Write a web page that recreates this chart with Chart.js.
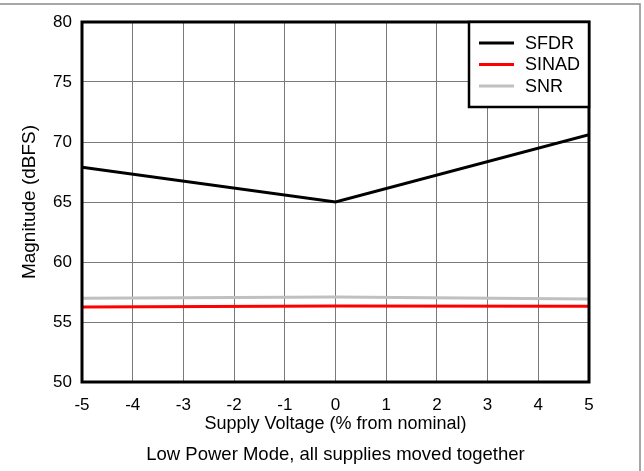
<!DOCTYPE html>
<html>
<head>
<meta charset="utf-8">
<script src="https://cdn.jsdelivr.net/npm/chart.js@4.4.1/dist/chart.umd.min.js"></script>
<style>
  html, body { margin: 0; padding: 0; background: #fff; }
  #wrap { position: relative; width: 644px; height: 471px; }
</style>
</head>
<body>
<div id="wrap"><canvas id="c" width="644" height="471"></canvas></div>
<script>
// ---- data ----
const supplyVoltage = [-5, 0, 5];            // % from nominal
const sfdr  = [67.9, 65.0, 70.6];            // dBFS
const sinad = [56.25, 56.33, 56.32];         // dBFS
const snr   = [56.97, 57.08, 56.92];         // dBFS
const seriesLabels = ['SFDR', 'SINAD', 'SNR'];
const xTitle = 'Supply Voltage (% from nominal)';
const yTitle = 'Magnitude (dBFS)';
const caption = 'Low Power Mode, all supplies moved together';

const FONT = 'Arial, "Liberation Sans", Helvetica, sans-serif';
const toPts = (xs, ys) => xs.map((x, i) => ({x: x, y: ys[i]}));

const framePlugin = {
  id: 'frameAndLegend',
  afterDraw(chart) {
    const {ctx, chartArea: a} = chart;
    ctx.save();
    // outer page frame (top + right)
    ctx.strokeStyle = '#8a8a8a';
    ctx.lineWidth = 1.5;
    ctx.beginPath();
    ctx.moveTo(0, 4); ctx.lineTo(640, 4); ctx.lineTo(640, 471);
    ctx.stroke();
    // plot box
    ctx.strokeStyle = '#000';
    ctx.lineWidth = 3;
    ctx.strokeRect(a.left, a.top, a.right - a.left, a.bottom - a.top);
    // legend box
    const bw = 120, bh = 85;
    const bx = a.right - bw, by = a.top;
    ctx.fillStyle = '#fff';
    ctx.fillRect(bx, by, bw, bh);
    ctx.lineWidth = 2.5;
    ctx.strokeRect(bx, by, bw, bh);
    ctx.font = '18px ' + FONT;
    ctx.textBaseline = 'middle';
    ctx.textAlign = 'left';
    chart.data.datasets.forEach((ds, i) => {
      const y = by + 21 + i * 21.5;
      ctx.strokeStyle = ds.borderColor;
      ctx.lineWidth = 3;
      ctx.beginPath();
      ctx.moveTo(bx + 10, y); ctx.lineTo(bx + 45, y);
      ctx.stroke();
      ctx.fillStyle = '#000';
      ctx.fillText(ds.label, bx + 56, y + 1);
    });
    // caption
    ctx.font = '18.5px ' + FONT;
    ctx.textAlign = 'center';
    ctx.textBaseline = 'alphabetic';
    ctx.fillStyle = '#000';
    ctx.fillText(caption, (a.left + a.right) / 2, 460);
    ctx.restore();
  }
};

new Chart(document.getElementById('c'), {
  type: 'line',
  data: {
    datasets: [
      {label: seriesLabels[0], data: toPts(supplyVoltage, sfdr),  borderColor: '#000000', borderWidth: 3},
      {label: seriesLabels[1], data: toPts(supplyVoltage, sinad), borderColor: '#ff0000', borderWidth: 3},
      {label: seriesLabels[2], data: toPts(supplyVoltage, snr),   borderColor: '#c0c0c0', borderWidth: 3}
    ]
  },
  options: {
    responsive: false,
    animation: false,
    devicePixelRatio: 1,
    layout: {padding: {top: 22, right: 55, left: 0, bottom: 0}},
    elements: {point: {radius: 0}, line: {tension: 0}},
    plugins: {legend: {display: false}, tooltip: {enabled: false}, title: {display: false}},
    scales: {
      x: {
        type: 'linear', min: -5, max: 5,
        afterFit: s => { s.height = 89; },
        grid: {color: '#7a7a7a', lineWidth: 1, drawTicks: false},
        border: {display: false},
        ticks: {stepSize: 1, padding: 13, color: '#000', font: {family: FONT, size: 17}, maxRotation: 0},
        title: {display: true, text: xTitle, color: '#000', font: {family: FONT, size: 18}, padding: {top: 0, bottom: 36}}
      },
      y: {
        min: 50, max: 80,
        afterFit: s => { s.width = 82; },
        grid: {color: '#7a7a7a', lineWidth: 1, drawTicks: false},
        border: {display: false},
        ticks: {stepSize: 5, padding: 10, color: '#000', font: {family: FONT, size: 17}},
        title: {display: true, text: yTitle, color: '#000', font: {family: FONT, size: 19}, padding: {top: 18, bottom: 0}}
      }
    }
  },
  plugins: [framePlugin]
});
</script>
</body>
</html>
